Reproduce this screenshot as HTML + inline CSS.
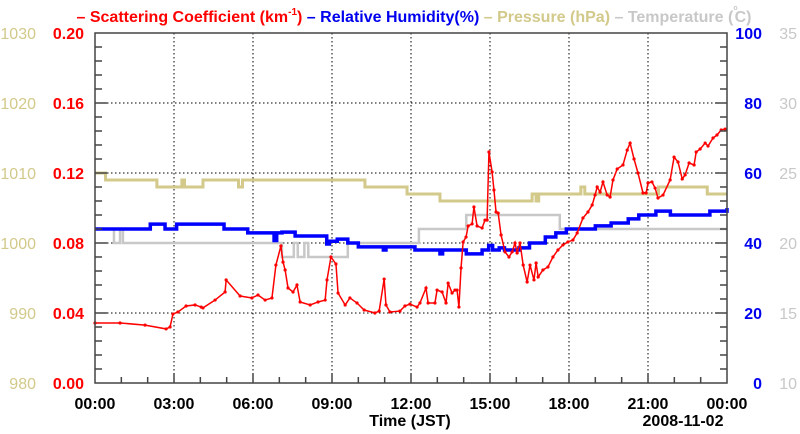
<!DOCTYPE html>
<html><head><meta charset="utf-8">
<style>
html,body{margin:0;padding:0;background:#fff;}
svg{display:block;font-family:"Liberation Sans",Arial,sans-serif;}
</style></head>
<body>
<svg id="chart" width="800" height="434" viewBox="0 0 800 434" xmlns="http://www.w3.org/2000/svg">
<text x="414" y="22" text-anchor="middle" font-size="16" font-weight="bold">
<tspan fill="#ff0000">– Scattering Coefficient (km</tspan><tspan fill="#ff0000" font-size="10" dy="-7">-1</tspan><tspan fill="#ff0000" dy="7">) </tspan><tspan fill="#0000ee">– Relative Humidity(%) </tspan><tspan fill="#d2c98a">– Pressure (hPa) </tspan><tspan fill="#c8c8c8">– Temperature (</tspan><tspan fill="#c8c8c8" font-size="7" dy="-12">o</tspan><tspan fill="#c8c8c8" dx="-3" dy="12">C)</tspan>
</text>
<g id="grid"></g>
<g id="series"></g>
<g id="axes"></g>
<text x="410" y="426" text-anchor="middle" font-size="16" font-weight="bold">Time (JST)</text>
<text x="683" y="426" text-anchor="middle" font-size="16" font-weight="bold">2008-11-02</text>
</svg>
<script>
// ---- data ----
const scatHours = [0,0.95,1.9,2.7,2.85,2.96,3.15,3.46,3.8,4.03,4.1,4.56,4.94,4.98,5.51,5.96,6.19,6.46,6.72,6.87,7.06,7.14,7.22,7.33,7.52,7.67,7.79,8.17,8.47,8.74,8.81,8.96,9.15,9.23,9.5,9.68,9.95,10.22,10.63,10.79,10.98,11.05,11.2,11.58,11.77,11.96,12.23,12.34,12.57,12.65,12.91,12.99,13.18,13.33,13.41,13.56,13.67,13.75,13.82,13.9,13.98,14.09,14.17,14.32,14.39,14.51,14.7,14.81,14.89,14.96,15.08,15.15,15.23,15.31,15.42,15.57,15.72,15.84,15.95,16.03,16.14,16.26,16.41,16.52,16.67,16.75,16.83,17.01,17.2,17.39,17.58,17.77,17.96,18.15,18.31,18.53,18.72,18.88,18.99,19.07,19.18,19.29,19.45,19.56,19.67,19.83,20.05,20.21,20.32,20.47,20.62,20.81,20.93,21.0,21.15,21.27,21.38,21.57,21.84,21.99,22.14,22.3,22.41,22.56,22.75,22.83,22.98,23.17,23.28,23.47,23.62,23.78,23.93];
const scatValues = [0.0343,0.0343,0.0331,0.0309,0.032,0.0394,0.0406,0.044,0.0446,0.0434,0.0429,0.0474,0.052,0.0589,0.0497,0.0486,0.0503,0.0474,0.0486,0.0674,0.0783,0.0691,0.0646,0.0543,0.052,0.056,0.0463,0.0446,0.0463,0.0474,0.0589,0.072,0.068,0.0514,0.0446,0.0486,0.0457,0.0417,0.04,0.0411,0.0594,0.0446,0.0406,0.0411,0.044,0.0451,0.0434,0.0457,0.0543,0.0457,0.0457,0.0531,0.052,0.0457,0.0571,0.0514,0.0531,0.0531,0.0434,0.0657,0.0806,0.0834,0.0897,0.0909,0.1006,0.0897,0.0886,0.0931,0.0931,0.132,0.1206,0.1103,0.0977,0.0971,0.0846,0.0749,0.072,0.0749,0.08,0.0743,0.08,0.0674,0.0577,0.0674,0.0589,0.0686,0.0606,0.0646,0.0663,0.072,0.076,0.0789,0.0806,0.0817,0.0857,0.0943,0.0977,0.1017,0.1074,0.112,0.1091,0.1149,0.1074,0.1063,0.116,0.1223,0.1246,0.1331,0.1371,0.128,0.12,0.1086,0.1086,0.1143,0.1149,0.1114,0.1057,0.1074,0.116,0.1291,0.1263,0.1166,0.1189,0.1257,0.1246,0.132,0.1337,0.1371,0.1354,0.14,0.1417,0.1446,0.1451];
// step series: value holds from hour[i] until hour[i+1]
const rhHours = [0,2.1,2.66,3.1,4.9,5.8,6.8,6.9,7.1,7.6,8.8,8.9,9.2,9.6,10.0,10.95,11.05,12.15,13.1,13.2,14.1,14.7,14.95,15.1,15.35,15.55,16.1,16.5,17.1,17.5,17.9,19.0,19.6,20.25,20.65,21.3,21.85,22.4,23.35,24];
const rhValues = [44,45.4,44,45.4,44,42.9,40.7,42.9,43.1,42,39.7,40.5,41.1,40,38.9,38,38.9,38,36.9,38,36.9,38,39.3,38,38.6,38,38.6,40,41.7,42.9,44,44.9,45.7,46.9,48,49.1,48,48,49.1,50];
const presHours = [0,0.4,2.35,3.3,3.4,4.1,5.45,5.6,10.25,11.85,13.1,16.6,16.75,16.85,18.45,18.6,21.4,23.25,24];
const presValues = [1010,1009,1008,1009,1008,1009,1008,1009,1008,1007,1006,1007,1006,1007,1008,1007,1008,1007,1007];
const tempHours = [0,0.72,0.95,1.06,7.1,7.55,7.7,7.95,8.1,9.6,12.3,14.1,17.65,24];
const tempValues = [21,20,21,20,19,20,19,20,19,20,21,22,21,21];
const xTickLabels = ["00:00","03:00","06:00","09:00","12:00","15:00","18:00","21:00","00:00"];
const scatTicks = ["0.00","0.04","0.08","0.12","0.16","0.20"];
const presTicks = ["980","990","1000","1010","1020","1030"];
const rhTicks = ["0","20","40","60","80","100"];
const tempTicks = ["10","15","20","25","30","35"];

// ---- scales ----
const L=95,R=727,T=33,B=383;
const NS="http://www.w3.org/2000/svg";
const xS=h=>L+h*(R-L)/24;
const yScat=v=>B-v/0.2*(B-T);
const yRH=v=>B-v/100*(B-T);
const yPres=v=>B-(v-980)/50*(B-T);
const yTemp=v=>B-(v-10)/25*(B-T);
function mk(tag,attrs,parent){const e=document.createElementNS(NS,tag);for(const k in attrs)e.setAttribute(k,attrs[k]);parent.appendChild(e);return e;}
const grid=document.getElementById('grid'),series=document.getElementById('series'),axes=document.getElementById('axes');

// grid
for(let i=1;i<8;i++){const l=mk('line',{x1:xS(i*3),x2:xS(i*3),y1:T,y2:B,stroke:'#000','stroke-width':1,'stroke-dasharray':'1.5,2.5'},grid);

}
for(let i=1;i<5;i++){const y=B-i*(B-T)/5;const l=mk('line',{x1:L,x2:R,y1:y,y2:y,stroke:'#000','stroke-width':1,'stroke-dasharray':'1.5,2.5'},grid);

}

function stepPath(hs,vs,ys){let d='';for(let i=0;i<hs.length;i++){const x=xS(hs[i]),y=ys(vs[i]);if(i===0)d+='M'+x+','+y;else d+='H'+x+'V'+y;}return d;}
const tp=mk('path',{d:stepPath(tempHours,tempValues,yTemp),fill:'none',stroke:'#c8c8c8','stroke-width':2.5},series);


const pp=mk('path',{d:stepPath(presHours,presValues,yPres),fill:'none',stroke:'#d2c98a','stroke-width':3},series);


const rp=mk('path',{d:stepPath(rhHours,rhValues,yRH),fill:'none',stroke:'#0000ff','stroke-width':3.5},series);


const sp=mk('polyline',{points:scatHours.map((h,i)=>xS(h)+','+yScat(scatValues[i])).join(' '),fill:'none',stroke:'#ff0000','stroke-width':1.5},series);


scatHours.forEach((h,i)=>{const c=mk('circle',{cx:xS(h),cy:yScat(scatValues[i]),r:1.6,fill:'#ff0000'},series);

});

// frame
const fr=mk('rect',{x:L,y:T,width:R-L,height:B-T,fill:'none',stroke:'#444','stroke-width':1.5},axes);


// ticks
for(let h=1;h<24;h++){const len=h%3===0?10:6;
mk('line',{x1:xS(h),x2:xS(h),y1:B,y2:B-len,stroke:'#444','stroke-width':1.5},axes);}
for(let y=B-14;y>T;y-=14){const major=Math.abs((B-y)%70)<0.5;
mk('line',{x1:L,x2:L+(major?12:7),y1:y,y2:y,stroke:'#444','stroke-width':1.5},axes);
mk('line',{x1:R,x2:R-(major?12:7),y1:y,y2:y,stroke:'#444','stroke-width':1.5},axes);}
// labels
xTickLabels.forEach((t,i)=>{const e=mk('text',{x:xS(i*3),y:409,'text-anchor':'middle','font-size':16,'font-weight':'bold',fill:'#000'},axes);e.textContent=t;

});
for(let i=0;i<6;i++){const y=B-i*(B-T)/5+6;
let e=mk('text',{x:84,y:y,'text-anchor':'end','font-size':16,'font-weight':'bold',fill:'#ff0000'},axes);e.textContent=scatTicks[i];


e=mk('text',{x:36,y:y,'text-anchor':'end','font-size':16,fill:'#d2c98a'},axes);e.textContent=presTicks[i];


e=mk('text',{x:762,y:y,'text-anchor':'end','font-size':16,'font-weight':'bold',fill:'#0000ee'},axes);e.textContent=rhTicks[i];


e=mk('text',{x:797,y:y,'text-anchor':'end','font-size':16,fill:'#c8c8c8'},axes);e.textContent=tempTicks[i];

}
</script>
</body></html>
